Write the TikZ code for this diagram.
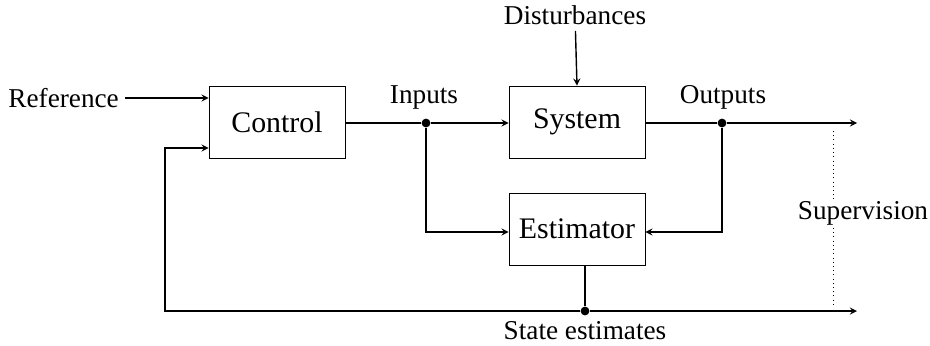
\documentclass[tikz,border=0pt]{standalone}
\usepackage{fontspec}
\setmainfont{Liberation Serif}
\usepackage{tikz}
\usetikzlibrary{arrows}
\tikzset{
    block/.style={draw, rectangle, minimum width=136*0.02cm, minimum height=72*0.02cm, font=\fontsize{17}{20}\selectfont},
    lbl/.style={font=\fontsize{15.5}{18}\selectfont},
    dot/.style={circle, fill, inner sep=0pt, minimum size=5pt},
    signal/.style={->, >=stealth, line width=0.8pt},
    wire/.style={line width=0.8pt}
}
\begin{document}
\begin{tikzpicture}[x=0.02cm, y=-0.02cm]
    \useasboundingbox (0,0) rectangle (930,345);

    % blocks
    \node[block] (control) at (277,122) {Control};
    \node[block] (system) at (577,122) {System};
    \node[block] (estimator) at (577,229) {Estimator};

    % labels
    \node[lbl, anchor=east] (reference) at (125,98) {Reference};
    \node[lbl] (disturbances) at (575,15) {Disturbances};
    \node[lbl] (inputs-lbl) at (424,97) {Inputs};
    \node[lbl] (outputs-lbl) at (723,97) {Outputs};
    \node[lbl] (state-lbl) at (585,331) {State estimates};

    % branch points
    \node[dot] (inputs) at (426,123) {};
    \node[dot] (outputs) at (722,123) {};
    \node[dot] (state) at (585,311) {};

    % line ends
    \coordinate (out-end) at (857,123);
    \coordinate (state-end) at (857,311);
    \coordinate (feedback) at (165,311);
    \coordinate (sup-top) at (833,131);
    \coordinate (sup-bottom) at (833,304);

    \draw[signal] (reference) -- (reference -| control.west);
    \draw[signal] (disturbances) -- (system.north);
    \draw[wire] (control.east |- inputs) -- (inputs);
    \draw[signal] (inputs) -- (inputs -| system.west);
    \draw[signal] (inputs) |- (estimator.west |- 0,232);
    \draw[wire] (system.east |- outputs) -- (outputs);
    \draw[signal] (outputs) -- (out-end);
    \draw[signal] (outputs) |- (estimator.east |- 0,232);
    \draw[wire] (estimator.south -| state) -- (state);
    \draw[signal] (state) -- (state-end);
    \draw[signal] (state) -- (feedback) |- (control.west |- 0,148);

    % supervision
    \draw[dotted] (sup-top) -- (sup-bottom);
    \node[lbl, fill=white, inner sep=1pt] (supervision) at (863,213) {Supervision};
\end{tikzpicture}
\end{document}
